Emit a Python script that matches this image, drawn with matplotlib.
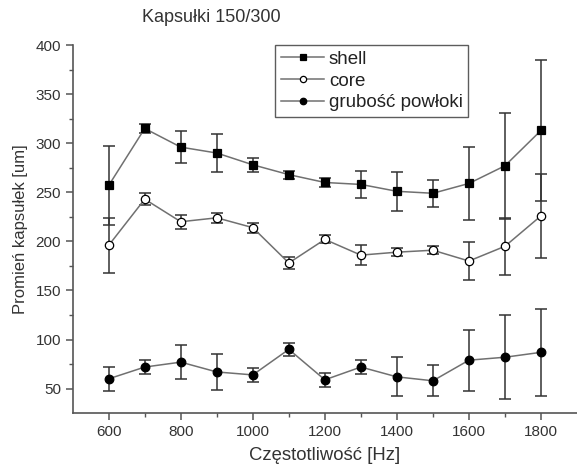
import matplotlib
matplotlib.use("Agg")
from matplotlib import pyplot as plt
import numpy as np

plt.rcParams['font.family'] = ['Liberation Sans', 'DejaVu Sans']

freq = [600, 700, 800, 900, 1000, 1100, 1200, 1300, 1400, 1500, 1600, 1700, 1800]

shell = [257, 315, 296, 290, 278, 268, 260, 258, 251, 249, 259, 277, 313]
shell_err = [40, 5, 16, 19, 7, 4, 5, 14, 20, 14, 37, 54, 72]

core = [196, 243, 220, 224, 214, 178, 202, 186, 189, 191, 180, 195, 226]
core_err = [28, 6, 7, 5, 5, 6, 4, 10, 4, 4, 19, 29, 43]

shell_thick = [60, 72, 77, 67, 64, 90, 59, 72, 62, 58, 79, 82, 87]
shell_thick_err = [12, 7, 17, 18, 7, 7, 7, 7, 20, 16, 31, 43, 44]

xticks = [600, 800, 1000, 1200, 1400, 1600, 1800]
yticks = [50, 100, 150, 200, 250, 300, 350, 400]

TXT = '#333333'
AX = '#555555'
LINE = '#707070'

fig = plt.figure(figsize=(5.77, 4.69), dpi=100)
ax = fig.add_axes([0.126, 0.119, 0.874, 0.785])

series = [
    (shell, shell_err, 's', 5.6, 'black', 'shell'),
    (core, core_err, 'o', 6.0, 'white', 'core'),
    (shell_thick, shell_thick_err, 'o', 6.2, 'black', 'grubość powłoki'),
]
for vals, err, mk, ms, face, name in series:
    ax.errorbar(freq, vals, yerr=err, fmt='none', ecolor='#333333',
                elinewidth=1.1, capsize=4, capthick=1.1, zorder=2)
    ax.plot(freq, vals, color=LINE, lw=1.1, marker=mk, markersize=ms,
            markerfacecolor=face, markeredgecolor='black', markeredgewidth=0.9,
            label=name, zorder=3)

ax.set_xlim(500, 1900)
ax.set_ylim(25, 400)
ax.set_xticks(xticks)
ax.set_xticks(np.arange(700, 1900, 200), minor=True)
ax.set_yticks(yticks)
ax.set_yticks(np.arange(75, 400, 50), minor=True)

for s in ['top', 'right']:
    ax.spines[s].set_visible(False)
for s in ['left', 'bottom']:
    ax.spines[s].set_color(AX)
    ax.spines[s].set_linewidth(1.2)

ax.tick_params(which='major', direction='out', length=5, width=1.1,
               color=AX, labelcolor=TXT, labelsize=11)
ax.tick_params(which='minor', direction='out', length=3, width=1.0, color=AX)

ax.set_xlabel('Częstotliwość [Hz]', color=TXT, fontsize=13.3, labelpad=6)
ax.set_ylabel('Promień kapsułek [um]', color=TXT, fontsize=12, labelpad=5)

fig.text(0.366, 0.962, 'Kapsułki 150/300', color=TXT, fontsize=13,
         ha='center', va='center')

leg = ax.legend(loc='upper left', bbox_to_anchor=(0.402, 1.0), frameon=True,
                fancybox=False, edgecolor='#333333', fontsize=13.5,
                handlelength=2.3, handletextpad=0.25, borderpad=0.3,
                labelspacing=0.25, borderaxespad=0, markerscale=0.75)
leg.get_frame().set_linewidth(1.0)
for t in leg.get_texts():
    t.set_color('#222222')

fig.savefig('out.png', dpi=100)
